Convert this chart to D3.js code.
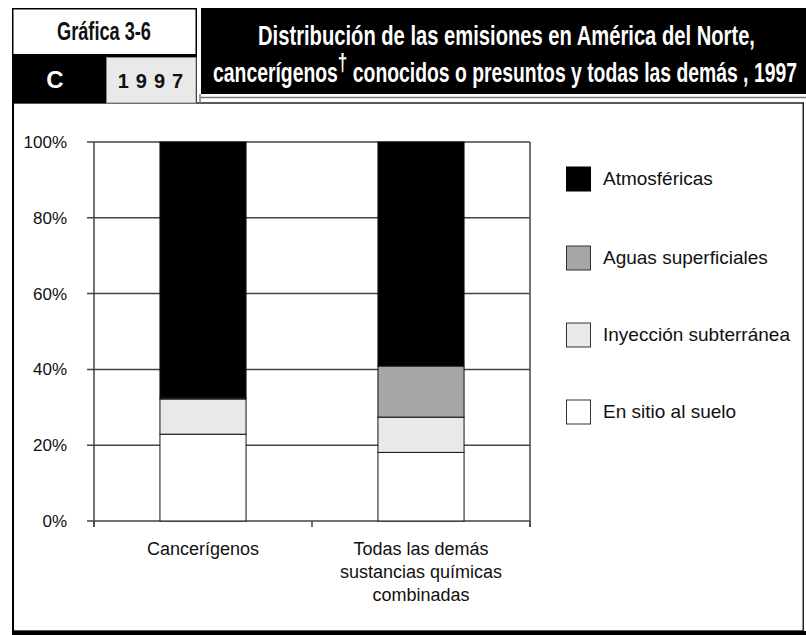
<!DOCTYPE html>
<html><head><meta charset="utf-8">
<script src="https://cdn.jsdelivr.net/npm/d3@7"></script>
<style>body{margin:0;background:#fff}svg{display:block}</style>
</head><body>
<svg id="c" width="806" height="635"></svg>
<script>
const categories = [["Cancerígenos"], ["Todas las demás", "sustancias químicas", "combinadas"]];
const seriesNames = ["En sitio al suelo", "Inyección subterránea", "Aguas superficiales", "Atmosféricas"];
const enSitio = [22.9, 18.1];
const inyeccion = [9.3, 9.3];
const aguas = [0.3, 13.5];
const atmosfericas = [67.5, 59.1];
const yTicks = [0, 20, 40, 60, 80, 100];
const yTickLabels = ["0%", "20%", "40%", "60%", "80%", "100%"];
const colors = ["#ffffff", "#e9e9e9", "#a6a6a6", "#000000"];
const legendOrder = [3, 2, 1, 0];

const svg = d3.select("#c");
const reg = "'Liberation Sans',Arial,sans-serif";

// helper: condensed text by horizontal scaling to a target width
function fitText(cx, by, width, size, color, build) {
  const g = svg.append("g");
  const t = g.append("text").attr("x",0).attr("y",0).attr("text-anchor","middle")
    .attr("font-family",reg).attr("font-weight","bold").attr("font-size",size).attr("fill",color);
  build(t);
  const w = t.node().getBBox().width;
  g.attr("transform",`translate(${cx},${by}) scale(${width / w},1)`);
  return t;
}

// frame / header
svg.append("rect").attr("x",12.75).attr("y",103).attr("width",790.5).attr("height",528).attr("fill","#fff").attr("stroke","#222").attr("stroke-width",1.5);
svg.append("line").attr("x1",13).attr("x2",13).attr("y1",103).attr("y2",631).attr("stroke","#000").attr("stroke-width",2);
svg.append("rect").attr("x",12).attr("y",631).attr("width",794).attr("height",4).attr("fill","#000");
svg.append("rect").attr("x",12.75).attr("y",8.75).attr("width",183.5).attr("height",46).attr("fill","#fff").attr("stroke","#000").attr("stroke-width",1.5);
svg.append("rect").attr("x",12).attr("y",54).attr("width",185).attr("height",49).attr("fill","#000");
svg.append("rect").attr("x",106.5).attr("y",57.5).attr("width",89.5).attr("height",45.5).attr("fill","#e9e9e9").attr("stroke","#888").attr("stroke-width",1);
svg.append("rect").attr("x",201).attr("y",8).attr("width",605).attr("height",86).attr("fill","#000");
svg.append("line").attr("x1",201).attr("x2",806).attr("y1",97.5).attr("y2",97.5).attr("stroke","#777").attr("stroke-width",1.5);
svg.append("line").attr("x1",200).attr("x2",200).attr("y1",94).attr("y2",103).attr("stroke","#777").attr("stroke-width",1.5);

fitText(104, 40, 94, 25, "#111", t=>t.text("Gráfica 3-6"));
svg.append("text").attr("x",55).attr("y",88).attr("text-anchor","middle").attr("font-family",reg).attr("font-weight","bold").attr("font-size",24).attr("fill","#fff").text("C");
svg.append("text").attr("x",154).attr("y",88).attr("text-anchor","middle").attr("font-family",reg).attr("font-weight","bold").attr("font-size",20).attr("letter-spacing",7).attr("fill","#111").text("1997");

fitText(506.5, 45, 497, 27, "#fff", t=>t.text("Distribución de las emisiones en América del Norte,"));
fitText(505, 82, 584, 27, "#fff", t=>{
  t.append("tspan").text("cancerígenos");
  t.append("tspan").attr("dy",-11).attr("font-size",24).text("†");
  t.append("tspan").attr("dy",11).text(" conocidos o presuntos y todas las demás , 1997");
});

// plot
const y = d3.scaleLinear().domain([0,100]).range([521,142]);
const x = d3.scaleBand().domain(d3.range(categories.length)).range([94,530]).paddingInner(0.605).paddingOuter(0.3025);
const g = svg.append("g");

g.selectAll(".grid").data(yTicks).join("line").attr("x1",87).attr("x2",530).attr("y1",d=>y(d)).attr("y2",d=>y(d)).attr("stroke","#444").attr("stroke-width",1.5);
g.append("line").attr("x1",94).attr("x2",94).attr("y1",y(100)).attr("y2",527).attr("stroke","#444").attr("stroke-width",1.5);
g.append("line").attr("x1",530).attr("x2",530).attr("y1",y(100)).attr("y2",527).attr("stroke","#444").attr("stroke-width",1.5);
const step = x.step();
g.selectAll(".xt").data([0,1,2]).join("line").attr("x1",d=>94+d*step).attr("x2",d=>94+d*step).attr("y1",521).attr("y2",527).attr("stroke","#444").attr("stroke-width",1.5);

g.selectAll(".yl").data(yTicks).join("text").attr("x",67).attr("y",d=>y(d)+6).attr("text-anchor","end").attr("font-family",reg).attr("font-size",17).attr("fill","#111").text((d,i)=>yTickLabels[i]);

const series = [enSitio, inyeccion, aguas, atmosfericas];
const rows = categories.map((c,i)=>({i, v: series.map(s=>s[i])}));
const stack = d3.stack().keys([0,1,2,3]).value((d,k)=>d.v[k]);
const stacked = stack(rows);
stacked.forEach((layer,k)=>{
  g.selectAll(".s"+k).data(layer).join("rect")
    .attr("x",d=>x(d.data.i)).attr("width",x.bandwidth())
    .attr("y",d=>y(d[1])).attr("height",d=>y(d[0])-y(d[1]))
    .attr("fill",colors[k]).attr("stroke","#111").attr("stroke-width",1);
});

categories.forEach((lines,i)=>{
  lines.forEach((ln,j)=>{
    g.append("text").attr("x",x(i)+x.bandwidth()/2).attr("y",555+j*23).attr("text-anchor","middle").attr("font-family",reg).attr("font-size",18).attr("fill","#111").text(ln);
  });
});

// legend
const ly = [179, 258, 335, 412];
legendOrder.forEach((k,j)=>{
  svg.append("rect").attr("x",566.5).attr("y",ly[j]-12).attr("width",24).attr("height",24).attr("fill",colors[k]).attr("stroke", k===3?"#000":"#333").attr("stroke-width",1);
  svg.append("text").attr("x",603).attr("y",ly[j]+6).attr("font-family",reg).attr("font-size",19).attr("fill","#111").text(seriesNames[k]);
});
</script>
</body></html>
